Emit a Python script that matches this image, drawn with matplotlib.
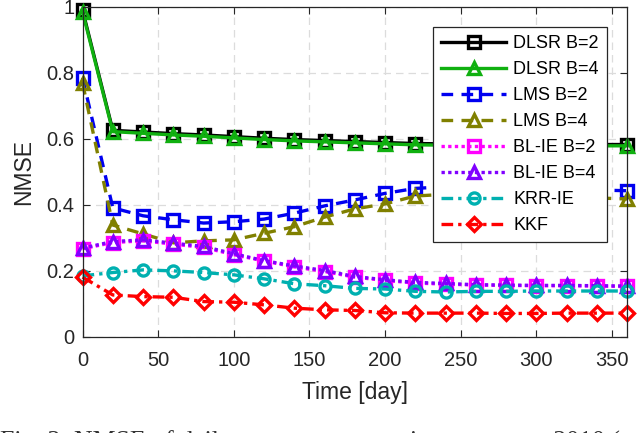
import numpy as np
import matplotlib
matplotlib.use('Agg')
import matplotlib.pyplot as plt

# days where each method was evaluated
days = np.arange(0, 361, 20)

# NMSE values
dlsr_b2 = [0.99, 0.626, 0.621, 0.616, 0.612, 0.607, 0.602, 0.598, 0.595, 0.592,
           0.589, 0.586, 0.585, 0.585, 0.584, 0.584, 0.584, 0.583, 0.583]
dlsr_b4 = [0.985, 0.622, 0.617, 0.612, 0.608, 0.603, 0.598, 0.594, 0.591, 0.588,
           0.585, 0.582, 0.581, 0.581, 0.580, 0.580, 0.580, 0.579, 0.579]
lms_b2 = [0.785, 0.391, 0.367, 0.355, 0.345, 0.349, 0.357, 0.375, 0.397, 0.415,
          0.435, 0.450, 0.455, 0.455, 0.452, 0.450, 0.447, 0.445, 0.443]
lms_b4 = [0.769, 0.339, 0.312, 0.285, 0.291, 0.294, 0.314, 0.334, 0.363, 0.388,
          0.403, 0.427, 0.432, 0.432, 0.430, 0.427, 0.424, 0.421, 0.418]
blie_b2 = [0.267, 0.286, 0.291, 0.281, 0.271, 0.249, 0.230, 0.212, 0.198, 0.181,
           0.171, 0.163, 0.160, 0.157, 0.156, 0.155, 0.155, 0.154, 0.153]
blie_b4 = [0.269, 0.289, 0.294, 0.284, 0.274, 0.252, 0.231, 0.215, 0.201, 0.183,
           0.173, 0.165, 0.162, 0.158, 0.157, 0.156, 0.156, 0.155, 0.154]
krr_ie = [0.185, 0.195, 0.203, 0.200, 0.195, 0.188, 0.176, 0.161, 0.155, 0.147,
          0.145, 0.138, 0.136, 0.138, 0.138, 0.139, 0.139, 0.139, 0.139]
kkf = [0.181, 0.127, 0.122, 0.120, 0.107, 0.105, 0.097, 0.087, 0.082, 0.080,
       0.073, 0.072, 0.072, 0.072, 0.071, 0.071, 0.072, 0.072, 0.072]

series = [
    ('DLSR B=2', dlsr_b2, 'k', '-', 's'),
    ('DLSR B=4', dlsr_b4, '#10b010', '-', '^'),
    ('LMS B=2', lms_b2, '#0000f0', (0, (3.5, 2.5)), 's'),
    ('LMS B=4', lms_b4, '#808000', (0, (3.5, 2.5)), '^'),
    ('BL-IE B=2', blie_b2, '#ff00ff', (0, (1, 1)), 's'),
    ('BL-IE B=4', blie_b4, '#8000ff', (0, (1, 1)), '^'),
    ('KRR-IE', krr_ie, '#00b0b0', (0, (3.5, 1.5, 1, 1.5)), 'o'),
    ('KKF', kkf, '#ff0000', (0, (3.5, 1.5, 1, 1.5)), 'D'),
]

caption = 'Fig. 3: NMSE of daily power consumption over year 2010 ('

plt.rcParams['font.family'] = ['Liberation Sans', 'DejaVu Sans']

fig = plt.figure(figsize=(6.4, 4.33), dpi=100)
ax = fig.add_axes([0.129, 0.222, 0.851, 0.762])

for label, vals, color, ls, mk in series:
    ms = 7 if mk == 'D' else 8
    ax.plot(days, vals, color=color, linestyle=ls, linewidth=2.4,
            marker=mk, markersize=ms, markerfacecolor='none',
            markeredgewidth=2.4, label=label, clip_on=False)

ax.set_xlim(0, 360)
ax.set_ylim(0, 1)
ax.set_xticks(np.arange(0, 351, 50))
ax.set_yticks([0, 0.2, 0.4, 0.6, 0.8, 1])
ax.set_yticklabels(['0', '0.2', '0.4', '0.6', '0.8', '1'])
ax.tick_params(direction='in', top=True, right=True, labelsize=14.5,
               length=5, width=0.8, colors='#262626')
ax.tick_params(axis='x', pad=10)
ax.tick_params(axis='y', pad=6)
ax.grid(True, linestyle=(0, (6, 4)), color='#dcdcdc', linewidth=0.9)
for s in ax.spines.values():
    s.set_color('#262626')
    s.set_linewidth(0.9)

ax.set_xlabel('Time [day]', fontsize=16.5, color='#262626', labelpad=8)
ax.set_ylabel('NMSE', fontsize=16.5, color='#262626', labelpad=8)

leg = ax.legend(loc='upper right', bbox_to_anchor=(0.963, 0.94), fontsize=13,
                handlelength=3.6, labelspacing=0.5, borderpad=0.45,
                handletextpad=0.4, borderaxespad=0, fancybox=False,
                framealpha=1, edgecolor='#262626')
leg.get_frame().set_linewidth(0.9)

# caption strip from the paper, cut by the bottom edge as in the source
cap = fig.text(0.0, -0.036, caption, fontsize=16,
               family=['Liberation Serif', 'DejaVu Serif'],
               va='baseline', ha='left', color='#333333')
fig.canvas.draw()
w = cap.get_window_extent().width
cap.set_fontsize(16 * 620.0 / w)

fig.savefig('out.png', dpi=100)
